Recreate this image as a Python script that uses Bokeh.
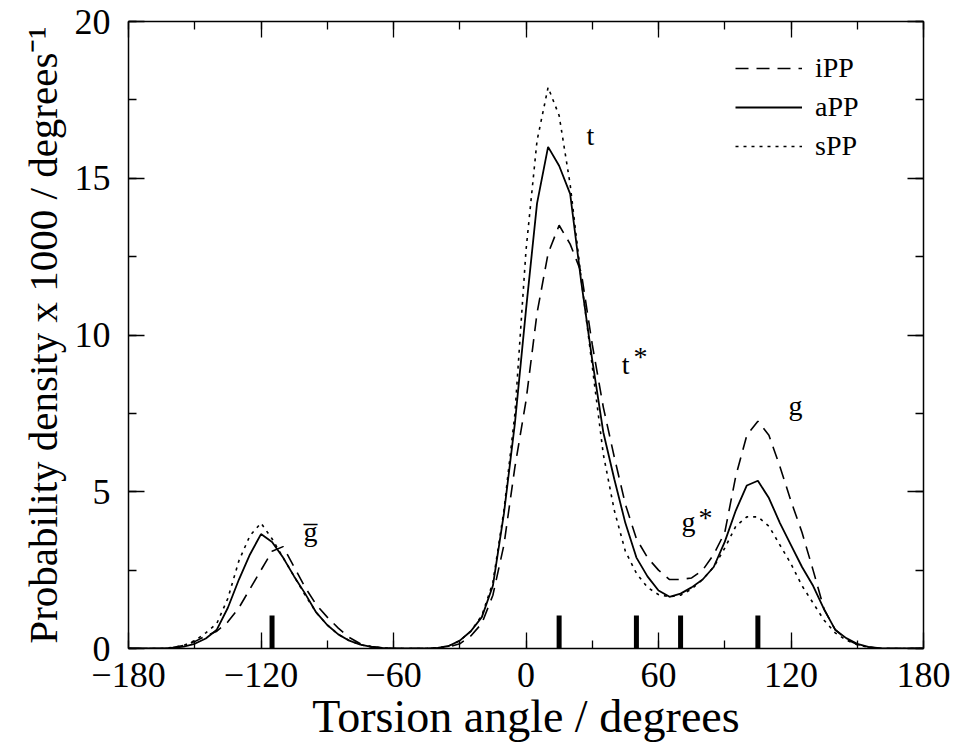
from bokeh.plotting import figure
from bokeh.models import LinearAxis, Range1d, Legend, LegendItem, FixedTicker, Label
from bokeh.embed import file_html
from bokeh.resources import INLINE

# ---------------- data ----------------
angle = list(range(-180, 181, 5))   # 73 points

iPP = [0, 0, 0, 0, 0.03, 0.1, 0.22, 0.4, 0.55, 0.85,          # -180 .. -135
       1.3, 1.9, 2.5, 3.1, 3.25, 2.6, 1.95, 1.4, 1.0, 0.65,    # -130 .. -85
       0.35, 0.15, 0.06, 0.02, 0, 0, 0, 0, 0.01, 0.05,         # -80 .. -35
       0.15, 0.4, 0.8, 1.7, 3.3, 5.8, 7.9, 10.7, 12.6, 13.5,   # -30 .. 15
       12.9, 12.0, 9.7, 7.7, 6.1, 4.6, 3.5, 2.9, 2.5, 2.2,     # 20 .. 65
       2.2, 2.25, 2.5, 3.0, 3.7, 5.5, 6.8, 7.25, 6.8, 5.8,     # 70 .. 115
       4.7, 3.7, 2.5, 1.25, 0.6, 0.3, 0.13, 0.05, 0.01, 0,     # 120 .. 165
       0, 0, 0]                                                # 170 .. 180

aPP = [0, 0, 0, 0, 0.02, 0.06, 0.15, 0.32, 0.6, 1.3,
       2.2, 3.0, 3.65, 3.4, 2.9, 2.3, 1.75, 1.15, 0.75, 0.45,
       0.25, 0.12, 0.05, 0.02, 0, 0, 0, 0, 0.02, 0.08,
       0.25, 0.55, 1.0, 2.0, 4.3, 7.2, 10.8, 14.2, 16.0, 15.4,
       14.5, 11.7, 9.2, 6.9, 5.4, 4.0, 2.9, 2.3, 1.85, 1.65,
       1.75, 1.95, 2.2, 2.6, 3.4, 4.4, 5.2, 5.35, 4.8, 4.0,
       3.3, 2.6, 2.0, 1.25, 0.6, 0.33, 0.15, 0.05, 0.01, 0,
       0, 0, 0]

sPP = [0, 0, 0, 0, 0.03, 0.1, 0.25, 0.5, 0.8, 1.6,
       2.8, 3.6, 4.0, 3.5, 2.9, 2.3, 1.7, 1.15, 0.75, 0.45,
       0.25, 0.12, 0.05, 0.02, 0, 0, 0, 0, 0.02, 0.08,
       0.25, 0.55, 1.05, 2.1, 4.4, 7.5, 12.7, 16.2, 17.9, 17.0,
       14.8, 11.8, 9.0, 6.2, 4.4, 3.1, 2.4, 1.95, 1.72, 1.65,
       1.7, 1.9, 2.2, 2.6, 3.2, 3.9, 4.2, 4.2, 3.9, 3.3,
       2.7, 2.0, 1.45, 0.9, 0.5, 0.27, 0.12, 0.04, 0.01, 0,
       0, 0, 0]

marker_angles = [-115, 15, 50, 70, 105]
marker_height = 1.05

x_ticks = [-180, -120, -60, 0, 60, 120, 180]
x_tick_labels = ["\u2212180", "\u2212120", "\u221260", "0", "60", "120", "180"]
x_minor = list(range(-180, 181, 30))
y_ticks = [0, 5, 10, 15, 20]
y_tick_labels = ["0", "5", "10", "15", "20"]
y_minor = [0, 2.5, 5, 7.5, 10, 12.5, 15, 17.5, 20]

# conformational state labels (text, x, baseline y)
state_text = ["t", "t", "g", "g", "g\u0305"]
state_x = [29.2, 45.1, 122.0, 73.6, -97.6]
state_y = [16.35, 9.05, 7.75, 4.04, 3.74]
star_x = [51.9, 81.3]
star_y = [9.3, 4.17]

# ---------------- figure ----------------
FONT = "Liberation Serif"

p = figure(width=955, height=745, output_backend="svg", toolbar_location=None,
           x_range=Range1d(-180, 180), y_range=Range1d(0, 20),
           min_border_left=128, min_border_right=32, min_border_top=21, min_border_bottom=97)
p.xgrid.visible = False
p.ygrid.visible = False
p.outline_line_color = None
p.background_fill_color = "white"
p.border_fill_color = "white"

r_i = p.line(angle, iPP, line_color="black", line_width=1.6, line_dash="13 8")
r_a = p.line(angle, aPP, line_color="black", line_width=1.8)
r_s = p.line(angle, sPP, line_color="black", line_width=1.6, line_dash="3 5")

p.segment(x0=marker_angles, y0=[0] * len(marker_angles), x1=marker_angles,
          y1=[marker_height] * len(marker_angles), line_color="black", line_width=5)


def style_axis(ax, show_labels, tick_font="36px"):
    ax.axis_line_color = "black"
    ax.axis_line_width = 1.5
    ax.major_tick_in = 16
    ax.major_tick_out = 0
    ax.minor_tick_in = 8
    ax.minor_tick_out = 0
    ax.major_tick_line_color = "black"
    ax.minor_tick_line_color = "black"
    ax.major_tick_line_width = 1.3
    ax.minor_tick_line_width = 1.3
    ax.major_label_text_font = FONT
    ax.major_label_text_font_size = tick_font if show_labels else "0px"
    ax.major_label_text_color = "black"
    ax.axis_label_text_font = FONT
    ax.axis_label_text_font_style = "normal"
    ax.axis_label_text_color = "black"


xa = p.xaxis[0]
xa.ticker = FixedTicker(ticks=x_ticks, minor_ticks=x_minor)
xa.major_label_overrides = {t: l for t, l in zip(x_ticks, x_tick_labels)}
style_axis(xa, True)
xa.axis_label = "Torsion angle / degrees"
xa.axis_label_text_font_size = "46px"
xa.major_label_standoff = 14
xa.axis_label_standoff = 1

ya = p.yaxis[0]
ya.ticker = FixedTicker(ticks=y_ticks, minor_ticks=y_minor)
ya.major_label_overrides = {t: l for t, l in zip(y_ticks, y_tick_labels)}
style_axis(ya, True)
ya.axis_label = "Probability density x 1000 / degrees\u207b\u00b9"
ya.axis_label_text_font_size = "41px"
ya.major_label_standoff = 18
ya.axis_label_standoff = 6

top = LinearAxis(ticker=FixedTicker(ticks=x_ticks, minor_ticks=x_minor))
style_axis(top, False)
top.major_label_standoff = 0
p.add_layout(top, "above")
right = LinearAxis(ticker=FixedTicker(ticks=y_ticks, minor_ticks=y_minor))
style_axis(right, False)
right.major_label_standoff = 0
p.add_layout(right, "right")

for t, x, y in zip(state_text, state_x, state_y):
    p.add_layout(Label(x=x, y=y, text=t, text_font=FONT, text_font_size="28px",
                       text_color="black", text_align="center", text_baseline="alphabetic"))
for x, y in zip(star_x, star_y):
    p.add_layout(Label(x=x, y=y, text="*", text_font=FONT, text_font_size="28px",
                       text_color="black", text_align="center", text_baseline="alphabetic"))

legend = Legend(items=[LegendItem(label="iPP", renderers=[r_i]),
                       LegendItem(label="aPP", renderers=[r_a]),
                       LegendItem(label="sPP", renderers=[r_s])],
                location=(607, 486))
legend.border_line_color = None
legend.background_fill_alpha = 0
legend.label_text_font = FONT
legend.label_text_font_size = "28px"
legend.label_text_color = "black"
legend.glyph_width = 67
legend.glyph_height = 28
legend.label_height = 28
legend.spacing = 7
legend.label_standoff = 13
legend.padding = 0
p.add_layout(legend, "center")

open("out.html", "w").write(file_html(p, INLINE))
